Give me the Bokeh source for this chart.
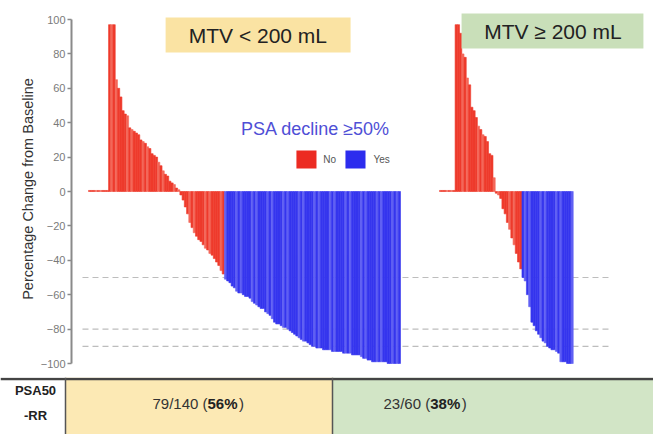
from bokeh.plotting import figure
from bokeh.models import ColumnDataSource, FixedTicker, Range1d
from bokeh.core.properties import value
from bokeh.embed import file_html
from bokeh.resources import INLINE

FONT = "Liberation Sans"

# Best percentage change in PSA from baseline, one bar per patient (sorted)
low_mtv_change = [
    0.6, 0.6, 0.6, 0.6, 0.6, 0.6, 0.6, 0.6, 0.6,
    97, 97, 97, 65, 60, 55, 47, 45, 44, 37, 36, 35, 34, 33, 30, 29, 28, 26, 25,
    22, 21, 20, 17, 15, 12, 10, 9, 6, 5, 4, 2, 1,
    -2, -5, -9, -13, -18, -21, -24, -26, -28, -29, -31, -33, -34, -36, -37, -39,
    -41, -43, -46, -48,
    -51, -52, -53, -55, -56, -58, -59, -59, -60, -61, -61, -62, -64, -65, -66,
    -67, -68, -68, -70, -71, -72, -74, -76, -77, -77, -78, -79, -79, -80, -81,
    -82, -83, -84, -85, -86, -87, -87, -88, -89, -90, -90, -91, -91, -91, -92,
    -92, -92, -92, -93, -93, -93, -93, -93, -94, -94, -94, -94, -95, -95, -95,
    -95, -96, -97, -97, -98, -98, -99, -99, -99, -99, -99, -99, -99,
    -100, -100, -100, -100, -100, -100,
]
high_mtv_change = [
    0.6, 0.6, 0.6, 0.6, 0.6, 0.6, 0.6,
    97, 97, 92, 80, 78, 66, 62, 49, 47, 43, 38, 36, 33, 32, 29, 22, 21, 8,
    -1, -2, -4, -10, -13, -18, -22, -27, -31, -36, -41, -45,
    -50, -52, -60, -67, -76, -78, -81, -83, -85, -87, -88, -90, -91, -92, -92,
    -93, -94, -99, -99, -99, -100, -100, -100,
]

group_titles = ["MTV < 200 mL", "MTV \u2265 200 mL"]
response_cut = -50
ref_levels = [-50, -80, -90]
y_ticks = list(range(-100, 101, 20))
y_title = "Percentage Change from Baseline"
legend_title = "PSA decline \u226550%"
legend_labels = ["No", "Yes"]
row_label = ["PSA50", "-RR"]

RED, RED_LT = "#EE3A2C", "#F3685A"
BLUE, BLUE_LT = "#3535EE", "#6060F3"
LEG_RED, LEG_BLUE = "#EC2B22", "#2C2CEE"
TITLE_YELLOW, TITLE_GREEN = "#FAE3A3", "#C9DFB9"
CELL_YELLOW, CELL_GREEN = "#FCE9B4", "#D2E5C6"

# horizontal layout in bar units
panel_gap = 17.5
right_offset = len(low_mtv_change) + panel_gap


def bar_rows(values, offset):
    xs, tops, colors = [], [], []
    for i, v in enumerate(values):
        xs.append(offset + i + 0.5)
        tops.append(v)
        light = (i * 5) % 7 in (1, 4)
        if v <= response_cut:
            colors.append(BLUE_LT if light else BLUE)
        else:
            colors.append(RED_LT if light else RED)
    return xs, tops, colors


xl, tl, cl = bar_rows(low_mtv_change, 0)
xr, tr, cr = bar_rows(high_mtv_change, right_offset)
bars = ColumnDataSource(dict(x=xl + xr, top=tl + tr, color=cl + cr))

W, H_TOP, H_TAB = 653, 377, 57
LEFT = 71
PX_X = 2.2286          # pixels per bar
PX_Y = 1.72            # pixels per percentage point
ZERO_PY = 191          # pixel row of the 0 line
x_start = -(88 - LEFT) / PX_X
x_end = x_start + (W - LEFT) / PX_X
y_end = ZERO_PY / PX_Y
y_start = (ZERO_PY - H_TOP) / PX_Y

p = figure(width=W, height=H_TOP, output_backend="svg", toolbar_location=None,
           x_range=Range1d(x_start, x_end), y_range=Range1d(y_start, y_end),
           x_axis_location=None, min_border_left=LEFT, min_border_right=0,
           min_border_top=0, min_border_bottom=0)
p.outline_line_color = None
p.xgrid.visible = False
p.ygrid.visible = False
p.background_fill_color = "white"
p.border_fill_color = "white"

ax = p.yaxis[0]
ax.ticker = FixedTicker(ticks=y_ticks)
ax.bounds = (min(y_ticks), max(y_ticks))
ax.axis_line_color = "#8A8A8A"
ax.axis_line_width = 2
ax.major_tick_line_color = "#8A8A8A"
ax.major_tick_line_width = 1.5
ax.major_tick_out = 4
ax.major_tick_in = 0
ax.minor_tick_line_color = None
ax.major_label_standoff = 2
ax.major_label_text_font = FONT
ax.major_label_text_font_size = "11px"
ax.major_label_text_color = "#7A7A7A"
ax.axis_label = y_title
ax.axis_label_text_font = FONT
ax.axis_label_text_font_size = "14.5px"
ax.axis_label_text_font_style = "normal"
ax.axis_label_text_color = "#333333"
ax.axis_label_standoff = 2

# reference levels
ref_x0 = -2.7
ref_x1 = right_offset + len(high_mtv_change) + 17.5
p.segment(x0=[ref_x0] * len(ref_levels), x1=[ref_x1] * len(ref_levels),
          y0=ref_levels, y1=ref_levels, line_color="#BDBDBD",
          line_width=1.2, line_dash="6 4")

p.vbar(x="x", top="top", bottom=0, width=1.0, source=bars,
       fill_color="color", line_color="color", line_width=0.6)

# group title boxes
p.quad(left=[34.6, 167.4], right=[117.6, 249.0], bottom=[80.8, 83.1],
       top=[101.2, 103.5], fill_color=[TITLE_YELLOW, TITLE_GREEN],
       line_color=None)
p.text(x=[76.0, 208.4], y=[90.8, 93.1], text=group_titles,
       text_font=value(FONT), text_font_size="21px", text_color="#222222",
       text_align="center", text_baseline="middle")

# legend
p.text(x=[101.9], y=[36.6], text=[legend_title], text_font=value(FONT),
       text_font_size="18px", text_color="#4F4FD6", text_align="center",
       text_baseline="middle")
p.quad(left=[93.3, 115.3], right=[102.3, 124.3], bottom=[13.4, 13.4],
       top=[23.8, 23.8], fill_color=[LEG_RED, LEG_BLUE], line_color=None)
p.text(x=[105.3, 127.9], y=[18.6, 18.6], text=legend_labels,
       text_font=value(FONT), text_font_size="10px", text_color="#555555",
       text_align="left", text_baseline="middle")

# response-rate row
n_low = len(low_mtv_change)
n_high = len(high_mtv_change)
resp_low = sum(1 for v in low_mtv_change if v <= response_cut)
resp_high = sum(1 for v in high_mtv_change if v <= response_cut)
pct_low = round(100 * resp_low / n_low)
pct_high = round(100 * resp_high / n_high)

t = figure(width=W, height=H_TAB, output_backend="svg", toolbar_location=None,
           x_range=Range1d(0, W), y_range=Range1d(0, H_TAB),
           x_axis_location=None, y_axis_location=None,
           min_border_left=0, min_border_right=0,
           min_border_top=0, min_border_bottom=0)
t.outline_line_color = None
t.xgrid.visible = False
t.ygrid.visible = False
t.border_fill_color = "white"
t.background_fill_color = "white"

t.quad(left=[65, 332], right=[332, W], bottom=[0, 0], top=[H_TAB, H_TAB],
       fill_color=[CELL_YELLOW, CELL_GREEN], line_color=None)
t.segment(x0=[0], x1=[W], y0=[H_TAB - 1.5], y1=[H_TAB - 1.5],
          line_color="#444444", line_width=2.5)
t.segment(x0=[65, 332], x1=[65, 332], y0=[0, 0], y1=[H_TAB, H_TAB],
          line_color="#555555", line_width=1.5)

t.text(x=[35, 35], y=[44, 19], text=row_label, text_font=value(FONT),
       text_font_size="13px", text_font_style="bold", text_color="#222222",
       text_align="center", text_baseline="middle")

anchors = [207, 429.7]
lead = [f"{resp_low}/{n_low} (", f"{resp_high}/{n_high} ("]
bold = [f"{pct_low}%", f"{pct_high}%"]
t.text(x=anchors, y=[31, 31], text=lead, text_font=value(FONT),
       text_font_size="15px", text_color="#333333", text_align="right",
       text_baseline="middle")
t.text(x=anchors, y=[31, 31], text=bold, text_font=value(FONT),
       text_font_size="15px", text_font_style="bold", text_color="#222222",
       text_align="left", text_baseline="middle")
t.text(x=[a + 31.5 for a in anchors], y=[31, 31], text=[")", ")"],
       text_font=value(FONT), text_font_size="15px", text_color="#333333",
       text_align="left", text_baseline="middle")

# two independent roots stacked on the page
open("out.html", "w").write(file_html([p, t], INLINE))
